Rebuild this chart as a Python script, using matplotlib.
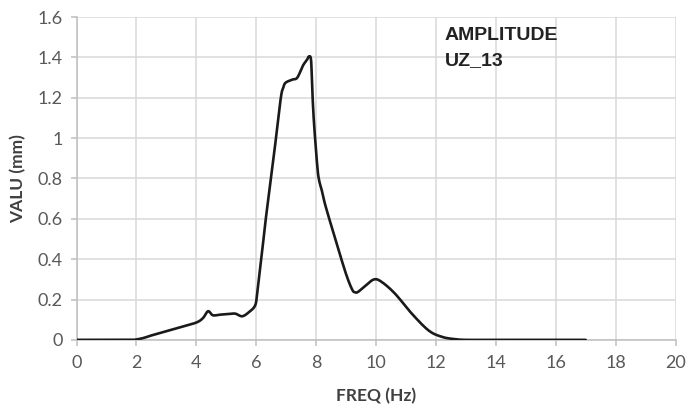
import matplotlib
matplotlib.use("Agg")
import matplotlib.pyplot as plt
import numpy as np

freq = [0, 1, 1.8, 2.0, 2.25, 2.5, 3.0, 3.5, 4.0, 4.22, 4.39, 4.55, 4.8, 5.09, 5.3, 5.53, 5.76, 5.96,
        6.03, 6.15, 6.31, 6.48, 6.65, 6.82, 6.9, 6.98, 7.2, 7.37, 7.56, 7.7, 7.76, 7.83,
        7.87, 7.93, 8.04, 8.1, 8.19, 8.32, 8.66, 8.99, 9.2, 9.3, 9.4, 9.66, 9.94, 10.2,
        10.64, 11.2, 11.76, 12.2, 12.6, 13.0, 14, 15, 16, 17]
amp = [0, 0, 0, 0.002, 0.01, 0.022, 0.043, 0.064, 0.086, 0.108, 0.142, 0.122, 0.125, 0.128, 0.13, 0.117, 0.138, 0.17,
       0.228, 0.377, 0.59, 0.79, 0.99, 1.20, 1.25, 1.275, 1.29, 1.30, 1.36, 1.39, 1.405, 1.386,
       1.237, 1.07, 0.857, 0.79, 0.74, 0.66, 0.49, 0.33, 0.25, 0.236, 0.238, 0.27, 0.30, 0.286,
       0.228, 0.129, 0.046, 0.015, 0.004, 0, 0, 0, 0, 0]

x_ticks = [0, 2, 4, 6, 8, 10, 12, 14, 16, 18, 20]
y_ticks = [0, 0.2, 0.4, 0.6, 0.8, 1.0, 1.2, 1.4, 1.6]
y_labels = ["0", "0.2", "0.4", "0.6", "0.8", "1", "1.2", "1.4", "1.6"]

def smooth(x, y, n=12):
    x = np.asarray(x, float); y = np.asarray(y, float)
    xs, ys = [], []
    for i in range(len(x) - 1):
        p0 = max(i - 1, 0); p3 = min(i + 2, len(x) - 1)
        t = np.linspace(0, 1, n, endpoint=False)
        for arr, out in ((x, xs), (y, ys)):
            P0, P1, P2, P3 = arr[p0], arr[i], arr[i + 1], arr[p3]
            m1 = (P2 - P0) / 2; m2 = (P3 - P1) / 2
            h00 = 2*t**3 - 3*t**2 + 1; h10 = t**3 - 2*t**2 + t
            h01 = -2*t**3 + 3*t**2; h11 = t**3 - t**2
            out.extend(h00*P1 + h10*m1 + h01*P2 + h11*m2)
    xs.append(x[-1]); ys.append(y[-1])
    return np.array(xs), np.array(ys)

fig = plt.figure(figsize=(6.9, 4.08), dpi=100)
ax = fig.add_axes([0.111, 0.167, 0.868, 0.791])

sx, sy = smooth(freq, amp)
ax.plot(sx, sy, color="#1a1a1a", lw=1.9, solid_capstyle="round", zorder=3)

ax.set_xlim(0, 20)
ax.set_ylim(0, 1.6)
ax.set_xticks(x_ticks)
ax.set_yticks(y_ticks)
ax.set_yticklabels(y_labels)
ax.grid(True, color="#d9d9d9", lw=1.1)
ax.set_axisbelow(True)
for s in ["top", "right"]:
    ax.spines[s].set_visible(False)
for s in ["left", "bottom"]:
    ax.spines[s].set_color("#bfbfbf")
    ax.spines[s].set_linewidth(1.1)
ax.tick_params(axis="both", colors="#bfbfbf", length=4, width=1.1,
               labelcolor="#595959", labelsize=13)
ax.tick_params(axis="x", pad=7)
ax.tick_params(axis="y", pad=6)
for lab in ax.get_xticklabels() + ax.get_yticklabels():
    lab.set_family("Lato")

ax.set_xlabel("FREQ (Hz)", fontsize=12.5, fontweight="bold", color="#404040", family="Lato", labelpad=12)
ax.set_ylabel("VALU (mm)", fontsize=12.5, fontweight="bold", color="#404040", family="Lato", labelpad=8)

ax.text(12.3, 1.553, "AMPLITUDE\nUZ_13", fontsize=14, fontweight="bold", color="#222222",
        family="Liberation Sans", va="top", ha="left", linespacing=1.62)

fig.savefig("out.png", dpi=100)
